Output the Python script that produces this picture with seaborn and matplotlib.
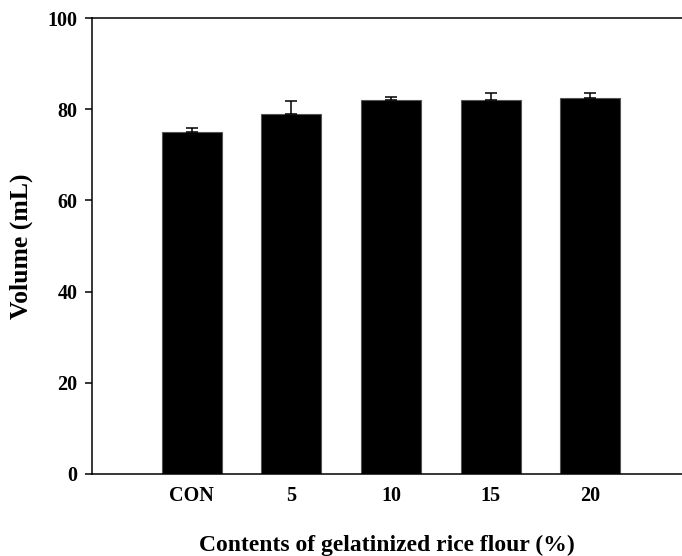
import matplotlib
matplotlib.use("Agg")
import matplotlib.pyplot as plt
import seaborn as sns
import pandas as pd
import numpy as np

# Loaf volume by gelatinized rice flour content
categories = ["CON", "5", "10", "15", "20"]
volume = [75.0, 79.0, 82.0, 82.0, 82.5]
volume_sd = [0.9, 2.9, 0.7, 1.5, 1.0]

sns.set_theme(style="ticks")
plt.rcParams["font.family"] = ["Liberation Serif", "DejaVu Serif"]
plt.rcParams["font.weight"] = "bold"

df = pd.DataFrame({"content": categories, "volume": volume})

fig = plt.figure(figsize=(6.82, 5.56), dpi=100)
ax = fig.add_axes([0.1349, 0.1475, 0.8651, 0.8201])

sns.barplot(data=df, x="content", y="volume", order=categories,
            color="black", edgecolor="#555555", linewidth=0.8,
            width=0.6, saturation=1, errorbar=None, ax=ax)

# upper-only error bars
xpos = np.arange(len(categories))
ax.errorbar(xpos, volume, yerr=[np.zeros(len(volume_sd)), volume_sd],
            fmt="none", ecolor="black", elinewidth=1.1, capsize=4,
            capthick=1.1, zorder=1)

ax.set_xlim(-1.0, 4.92)
ax.set_ylim(0, 100)
ax.set_yticks([0, 20, 40, 60, 80, 100])

for side in ["left", "bottom", "top"]:
    ax.spines[side].set_visible(True)
    ax.spines[side].set_linewidth(1.1)
    ax.spines[side].set_color("black")
ax.spines["right"].set_visible(False)

ax.tick_params(axis="y", direction="out", length=5, width=1.1,
               pad=5.5, labelsize=14.5, colors="black")
ax.tick_params(axis="x", length=0, pad=8.5, labelsize=14.5, colors="black")
for lab in ax.get_xticklabels() + ax.get_yticklabels():
    lab.set_fontweight("bold")

ax.set_xlabel("Contents of gelatinized rice flour (%)", fontsize=17,
              fontweight="bold", color="black")
ax.set_ylabel("Volume (mL)", fontsize=18.5, fontweight="bold",
              color="black")
ax.xaxis.set_label_coords(0.5, -0.134)
ax.yaxis.set_label_coords(-0.1, 0.5)

fig.savefig("out.png", dpi=100)
